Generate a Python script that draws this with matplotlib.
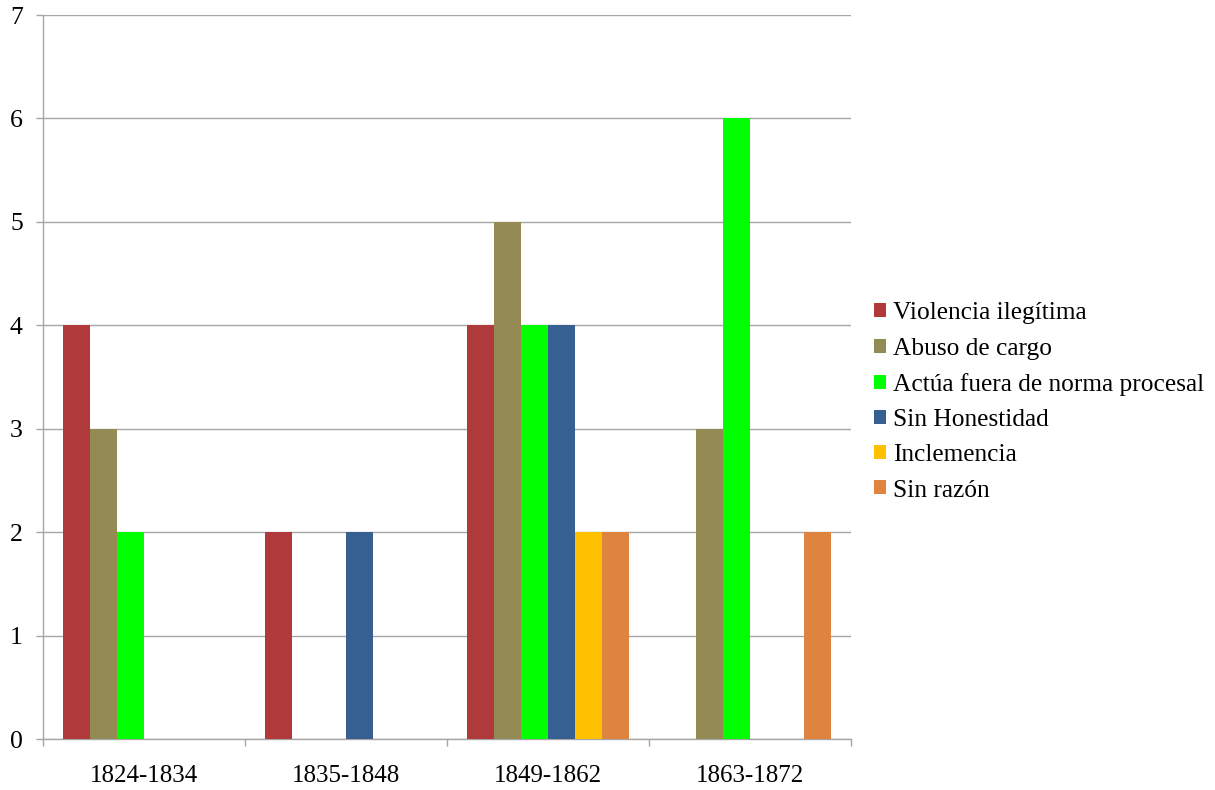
import numpy as np
import matplotlib
matplotlib.use("Agg")
import matplotlib.pyplot as plt
from matplotlib.patches import Patch

plt.rcParams['font.family'] = ['Liberation Serif', 'DejaVu Serif']

periods = ["1824-1834", "1835-1848", "1849-1862", "1863-1872"]
series_names = ["Violencia ilegítima", "Abuso de cargo", "Actúa fuera de norma procesal",
                "Sin Honestidad", "Inclemencia", "Sin razón"]
violencia = [4, 2, 4, 0]
abuso = [3, 0, 5, 3]
actua = [2, 0, 4, 6]
honestidad = [0, 2, 4, 0]
inclemencia = [0, 0, 2, 0]
sin_razon = [0, 0, 2, 2]
values = [violencia, abuso, actua, honestidad, inclemencia, sin_razon]
colors = ["#B0393B", "#948A54", "#00FF00", "#366092", "#FFC000", "#DE843F"]
y_ticks = list(range(0, 8))

fig = plt.figure(figsize=(12.15, 7.9), dpi=100)
ax = fig.add_axes([43 / 1215, 1 - 739 / 790, (851 - 43) / 1215, (739 - 15) / 790])

n = len(series_names)
w = 1 / (n + 1.5)
x = np.arange(len(periods))
for i, (vals, c) in enumerate(zip(values, colors)):
    ax.bar(x + (i - (n - 1) / 2) * w, vals, width=w, color=c, zorder=3, linewidth=0)

ax.set_xlim(-0.5, len(periods) - 0.5)
ax.set_ylim(0, 7)
ax.set_yticks(y_ticks)
ax.set_yticklabels([str(t) for t in y_ticks], fontsize=18.5)
ax.yaxis.grid(True, color="#A6A6A6", linewidth=1, zorder=0)

ax.set_xticks(np.arange(len(periods) + 1) - 0.5)
ax.set_xticklabels([])
ax.set_xticks(x, minor=True)
ax.set_xticklabels(periods, minor=True, fontsize=18)
ax.tick_params(axis="x", which="minor", length=0, pad=19)
ax.tick_params(axis="x", which="major", length=5, color="#A6A6A6", width=1)
ax.tick_params(axis="y", length=5, color="#A6A6A6", width=1, pad=9.5)

for s in ["top", "right"]:
    ax.spines[s].set_visible(False)
for s in ["left", "bottom"]:
    ax.spines[s].set_color("#A6A6A6")
    ax.spines[s].set_linewidth(1)

handles = [Patch(facecolor=c, edgecolor="none") for c in colors]
fig.legend(handles, series_names, loc="center left", bbox_to_anchor=(874 / 1215, 1 - 402 / 790),
           frameon=False, fontsize=18.3, handlelength=0.47, handleheight=0.47,
           handletextpad=0.28, labelspacing=0.52, borderpad=0, borderaxespad=0)

fig.savefig("out.png", dpi=100)
